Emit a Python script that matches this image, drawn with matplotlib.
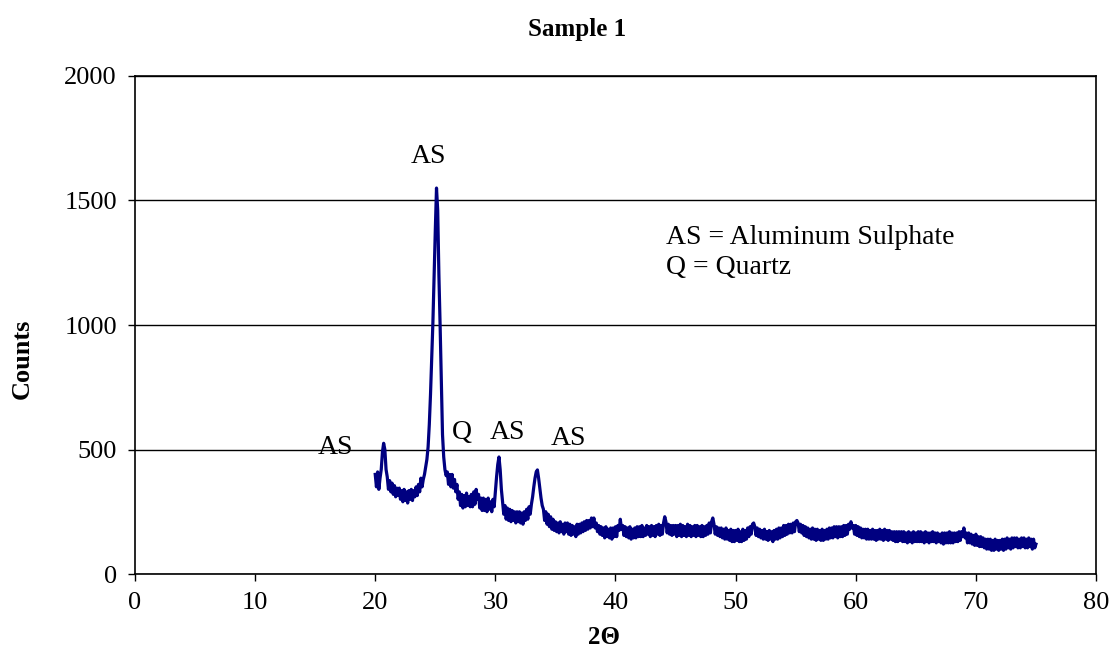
import numpy as np
import matplotlib.pyplot as plt

plt.rcParams['font.family'] = ['Liberation Serif', 'DejaVu Serif']

# 2-theta scan grid, 20 to 75 deg in 0.1 deg steps
two_theta = np.round(np.arange(20.0, 75.05, 0.1), 1)

# counts, one row per degree (d.0 ... d.9)
counts = [
    400, 350, 410, 340, 385, 420, 490, 525, 500, 420,   # 20
    390, 340, 375, 330, 365, 320, 355, 310, 345, 315,   # 21
    345, 300, 335, 290, 340, 295, 330, 285, 335, 300,   # 22
    340, 295, 335, 310, 350, 315, 360, 330, 385, 350,   # 23
    380, 400, 430, 460, 510, 600, 720, 860, 1010, 1200,  # 24
    1380, 1550, 1460, 1200, 1000, 780, 560, 470, 420, 395,  # 25
    410, 360, 400, 350, 400, 345, 380, 330, 360, 300,   # 26
    330, 275, 320, 265, 315, 270, 325, 275, 310, 270,   # 27
    320, 270, 330, 280, 340, 300, 320, 265, 305, 255,   # 28
    305, 255, 300, 250, 305, 260, 290, 250, 300, 270,   # 29
    330, 390, 440, 470, 420, 340, 290, 240, 275, 220,   # 30
    265, 215, 260, 210, 255, 215, 250, 205, 250, 210,   # 31
    250, 205, 245, 200, 250, 215, 260, 220, 270, 240,   # 32
    280, 310, 350, 385, 410, 418, 385, 345, 305, 275,   # 33
    260, 215, 250, 200, 240, 190, 230, 180, 220, 175,   # 34
    210, 170, 205, 165, 210, 170, 200, 160, 205, 170,   # 35
    205, 160, 200, 155, 195, 160, 190, 150, 200, 160,   # 36
    200, 165, 205, 170, 210, 175, 215, 180, 215, 185,   # 37
    225, 190, 225, 185, 205, 170, 195, 160, 190, 155,   # 38
    185, 145, 190, 150, 180, 145, 185, 140, 185, 150,   # 39
    190, 150, 195, 175, 220, 180, 195, 155, 190, 150,   # 40
    185, 145, 190, 140, 180, 145, 185, 145, 190, 150,   # 41
    190, 150, 195, 150, 185, 155, 195, 160, 190, 150,   # 42
    195, 155, 190, 150, 195, 160, 200, 155, 195, 160,   # 43
    205, 230, 210, 165, 200, 160, 195, 155, 195, 160,   # 44
    195, 150, 195, 155, 200, 150, 195, 155, 190, 150,   # 45
    200, 155, 195, 150, 190, 155, 195, 150, 195, 155,   # 46
    190, 150, 195, 150, 190, 155, 195, 160, 205, 165,   # 47
    210, 225, 200, 160, 190, 155, 185, 150, 185, 145,   # 48
    180, 140, 185, 140, 175, 135, 180, 130, 175, 130,   # 49
    175, 135, 180, 130, 170, 130, 180, 135, 175, 140,   # 50
    185, 150, 190, 160, 200, 205, 190, 155, 185, 150,   # 51
    180, 145, 175, 140, 180, 140, 170, 135, 175, 140,   # 52
    170, 130, 175, 140, 180, 140, 185, 145, 185, 150,   # 53
    195, 155, 195, 160, 200, 165, 200, 165, 205, 170,   # 54
    210, 215, 205, 170, 200, 165, 195, 155, 190, 150,   # 55
    185, 145, 180, 140, 185, 140, 180, 135, 180, 140,   # 56
    175, 135, 180, 135, 175, 140, 180, 140, 185, 145,   # 57
    185, 145, 190, 150, 190, 145, 190, 150, 190, 150,   # 58
    195, 155, 195, 160, 200, 180, 210, 185, 195, 160,   # 59
    195, 155, 190, 150, 185, 145, 180, 145, 180, 140,   # 60
    180, 140, 175, 140, 180, 140, 175, 135, 175, 140,   # 61
    180, 140, 175, 135, 180, 140, 175, 135, 175, 140,   # 62
    170, 135, 170, 130, 170, 130, 170, 135, 170, 130,   # 63
    170, 130, 165, 125, 170, 130, 165, 125, 170, 130,   # 64
    165, 130, 170, 130, 170, 130, 165, 125, 170, 130,   # 65
    165, 125, 165, 130, 170, 130, 165, 125, 165, 130,   # 66
    160, 125, 165, 120, 165, 125, 165, 125, 170, 125,   # 67
    165, 125, 165, 130, 165, 130, 170, 135, 170, 150,   # 68
    185, 145, 165, 125, 165, 125, 160, 120, 155, 115,   # 69
    160, 115, 150, 110, 150, 110, 145, 105, 140, 100,   # 70
    140, 100, 140, 95, 135, 95, 140, 100, 135, 95,      # 71
    135, 100, 140, 95, 140, 100, 145, 105, 140, 100,    # 72
    145, 105, 145, 110, 145, 105, 140, 105, 145, 110,   # 73
    145, 105, 140, 105, 145, 110, 140, 100, 140, 105,   # 74
    120,                                                # 75
]

peak_labels = ['AS', 'AS', 'Q', 'AS', 'AS']
peak_x = [16.7, 24.4, 27.2, 31.05, 36.05]
peak_y = [510, 1675, 570, 570, 546]

legend_lines = ['AS = Aluminum Sulphate', 'Q = Quartz']

fig = plt.figure(figsize=(11.1, 6.5), dpi=100)
ax = fig.add_axes([0.1216, 0.1169, 0.8658, 0.7662])

ax.plot(two_theta, counts, color='#000080', lw=2.3)

ax.set_xlim(0, 80)
ax.set_ylim(0, 2000)
ax.set_xticks(range(0, 81, 10))
ax.set_yticks(range(0, 2001, 500))
ax.yaxis.grid(True, color='black', lw=1)
ax.set_axisbelow(True)
for s in ax.spines.values():
    s.set_color('black')
    s.set_linewidth(1.2)
ax.tick_params(labelsize=19, length=5, width=1, direction='out', pad=8)

# axis titles and chart title placed in figure coords
fig.text(604 / 1110, 1 - 637 / 650, '2\u0398', ha='center', va='center',
         fontsize=18, fontweight='bold')
fig.text(22 / 1110, 1 - 359 / 650, 'Counts', ha='center', va='center',
         rotation=90, fontsize=19, fontweight='bold')
fig.text(0.52, 0.955, 'Sample 1', ha='center', va='center', fontsize=18, fontweight='bold')

for lab, px, py in zip(peak_labels, peak_x, peak_y):
    ax.text(px, py, lab, ha='center', va='center', fontsize=20)

ax.text(44.2, 1353, legend_lines[0], ha='left', va='center', fontsize=20)
ax.text(44.2, 1230, legend_lines[1], ha='left', va='center', fontsize=20)

fig.savefig('out.png', dpi=100)
